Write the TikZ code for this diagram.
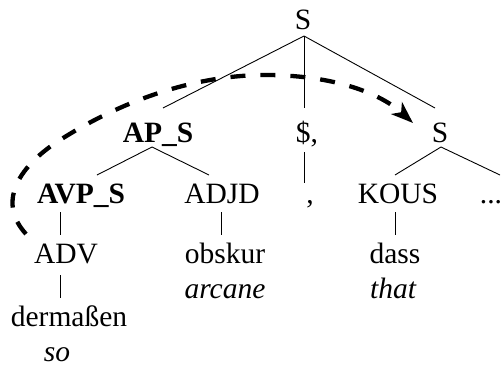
\documentclass[tikz,border=0pt]{standalone}
\usepackage{fontspec}
\setmainfont{Liberation Serif}
\usetikzlibrary{arrows.meta,calc}
\begin{document}
\begin{tikzpicture}[x=1pt,y=-1pt,
  lbl/.style={anchor=base,inner sep=0pt,font=\fontsize{29.5}{34}\selectfont},
  cat/.style={lbl,font=\fontsize{29.5}{34}\selectfont\bfseries},
  gloss/.style={lbl,font=\fontsize{29.5}{34}\selectfont\itshape},
  branch/.style={line width=0.9pt},
  movement/.style={line width=4.3pt,dash pattern=on 15pt off 15pt,
    -{Stealth[length=22pt,width=16pt,inset=6pt]}}]
\useasboundingbox (0,0) rectangle (501,367);

% tree labels
\node[lbl] (sTop)   at (303,29)  {S};
\node[cat] (apS)    at (158,142) {AP\_S};
\node[lbl] (dollar) at (307,142) {\$,};
\node[lbl] (sRight) at (440,142) {S};
\node[cat] (avpS)   at (81,203)  {AVP\_S};
\node[lbl] (adjd)   at (222,203) {ADJD};
\node[lbl] (comma)  at (310,203) {,};
\node[lbl] (kous)   at (398,203) {KOUS};
\node[lbl] (dots)   at (491,203) {...};
\node[lbl] (adv)    at (66,263)  {ADV};
\node[lbl] (obskur) at (225,263) {obskur};
\node[lbl] (dass)   at (395,263) {dass};
\node[gloss] (arcane) at (225,298) {arcane};
\node[gloss] (that)   at (393,298) {that};
\node[lbl] (derm)   at (69,326)  {dermaßen};
\node[gloss] (so)   at (57,361)  {so};

% branches
\draw[branch] ($(sTop.base)+(1,7)$) -- ($(apS.base)+(5,-34)$);
\draw[branch] ($(sTop.base)+(1,7)$) -- ($(dollar.base)+(-3,-34)$);
\draw[branch] ($(sTop.base)+(1,7)$) -- ($(sRight.base)+(-5,-34)$);
\draw[branch] ($(apS.base)+(-6,5)$) -- ($(avpS.base)+(16,-28)$);
\draw[branch] ($(apS.base)+(-6,5)$) -- ($(adjd.base)+(-13,-28)$);
\draw[branch] ($(dollar.base)+(-3,10)$) -- ($(comma.base)+(-6,-20)$);
\draw[branch] ($(sRight.base)+(1,5)$) -- ($(kous.base)+(-3,-28)$);
\draw[branch] ($(sRight.base)+(1,5)$) -- ($(dots.base)+(9,-28)$);
\draw[branch] ($(avpS.base)+(-21,9)$) -- ($(adv.base)+(-6,-28)$);
\draw[branch] ($(adjd.base)+(-1,9)$) -- ($(obskur.base)+(-4,-28)$);
\draw[branch] ($(kous.base)+(-3,9)$) -- ($(dass.base)+(0,-28)$);
\draw[branch] ($(adv.base)+(-6,12)$) -- ($(derm.base)+(-9,-28)$);

% dashed movement arrow
\coordinate (mvStart) at (26,234);
\coordinate (mvEnd) at (413,123);
\draw[movement] (mvStart)
  .. controls (-5,200) and (22,164) .. (60,140)
  .. controls (115,105) and (190,74) .. (270,75)
  .. controls (335,76) and (380,93) .. (mvEnd);
\end{tikzpicture}
\end{document}
